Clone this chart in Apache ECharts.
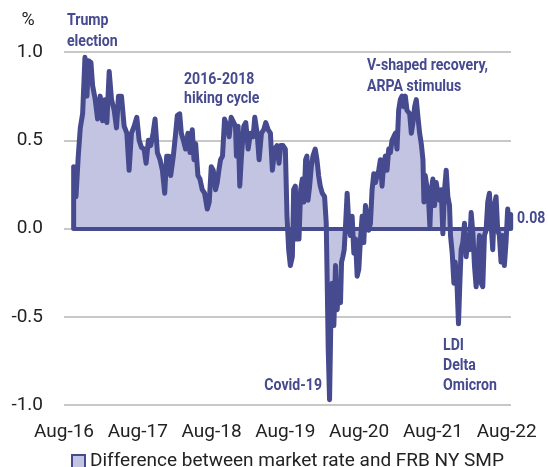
<!DOCTYPE html>
<html>
<head>
<meta charset="utf-8">
<script src="https://cdn.jsdelivr.net/npm/echarts@6/dist/echarts.min.js"></script>
<style>
  html, body { margin: 0; padding: 0; background: #fff; }
  #chart { width: 548px; height: 467px; }
</style>
</head>
<body>
<div id="chart"></div>
<script>
// x = months since Aug-16, y = spread in %
var months = [
  1.57, 1.57, 1.95, 2.32, 2.65, 3.03, 3.41, 3.73, 4.0, 4.38, 4.65, 5.08, 5.46, 5.89, 6.27, 6.65, 6.97, 7.35, 7.73, 8.16,
  8.54, 8.86, 9.35, 9.78, 10.22, 10.59, 10.97, 11.41, 11.84, 12.22, 12.59, 13.03, 13.35, 13.73, 14.11, 14.49, 14.81, 15.19,
  15.62, 16.0, 16.38, 16.70, 17.08, 17.35, 17.78, 18.16, 18.43, 18.81, 19.08, 19.41, 19.78, 20.16, 20.49, 20.86, 21.14,
  21.41, 21.78, 22.11, 22.49, 22.86, 23.30, 23.62, 23.95, 24.27, 24.65, 24.92, 25.19, 25.46, 25.78, 26.11, 26.54, 26.86,
  27.19, 27.51, 27.89,
  28.05, 28.32, 28.59, 28.86, 29.24, 29.57, 29.95, 30.32, 30.76, 31.03, 31.41, 31.73, 32.11, 32.49, 32.81, 33.19, 33.57,
  33.89, 34.27, 34.65, 34.97, 35.24, 35.62, 36.0, 36.27, 36.54, 36.81, 37.14, 37.35, 37.62, 37.89, 38.22, 38.49, 38.76,
  39.03, 39.30, 39.51, 39.68, 39.95, 40.22, 40.49, 40.86, 41.14, 41.41, 41.68, 42.0, 42.38, 42.65,
  42.81, 42.97, 43.19, 43.41, 43.62, 43.89, 44.16, 44.43, 44.70, 44.97, 45.14, 45.35, 45.57, 45.78, 46.05, 46.32, 46.59,
  46.86, 47.14, 47.41, 47.68, 47.95, 48.22, 48.49, 48.76, 49.03, 49.30, 49.57, 49.84, 50.11, 50.38, 50.65, 50.92, 51.19,
  51.46, 51.73, 52.0, 52.27, 52.54, 52.81, 53.08, 53.35, 53.62, 53.89, 54.16, 54.43, 54.70, 54.97, 55.24, 55.51, 55.78,
  56.22, 56.49, 56.76, 57.03, 57.30, 57.57, 57.84, 58.11, 58.38, 58.54, 58.76, 59.08, 59.30, 59.51, 59.73, 60.0, 60.27,
  60.54, 60.81, 61.08, 61.35, 61.62, 61.89, 62.16, 62.43, 62.70, 62.86, 63.14, 63.41, 63.62, 63.89, 64.16, 64.38, 64.59,
  64.86, 65.14, 65.41, 65.68, 65.95, 66.22, 66.49, 66.76, 67.03, 67.30, 67.57, 67.84, 68.11, 68.38, 68.65, 68.92, 69.19,
  69.46, 69.73, 70.0, 70.27, 70.54, 70.81, 71.08, 71.35, 71.62, 71.89, 72.16, 72.43, 72.65, 72.65
]
var spread = [
  0, 0.35, 0.18, 0.41, 0.57, 0.65, 0.97, 0.75, 0.95, 0.94, 0.81, 0.73, 0.62, 0.75, 0.61, 0.73, 0.60, 0.89, 0.73, 0.67,
  0.57, 0.75, 0.75, 0.58, 0.54, 0.33, 0.54, 0.58, 0.63, 0.50, 0.46, 0.45, 0.37, 0.50, 0.47, 0.54, 0.62, 0.43,
  0.39, 0.33, 0.20, 0.41, 0.41, 0.30, 0.41, 0.54, 0.64, 0.65, 0.54, 0.50, 0.45, 0.54, 0.43, 0.56, 0.39,
  0.48, 0.30, 0.28, 0.22, 0.20, 0.11, 0.15, 0.35, 0.33, 0.22, 0.26, 0.33, 0.39, 0.41, 0.62, 0.58, 0.52,
  0.63, 0.62, 0.58,
  0.41, 0.58, 0.24, 0.41, 0.58, 0.60, 0.45, 0.54, 0.52, 0.63, 0.54, 0.39, 0.54, 0.56, 0.60, 0.56, 0.54,
  0.33, 0.45, 0.47, 0.37, 0.47, 0.47, 0.45, 0.07, -0.12, -0.21, -0.16, 0.22, 0.24, -0.06, -0.06, 0.22, 0.28,
  0.15, 0.39, 0.41, 0.16, 0.24, 0.35, 0.41, 0.45, 0.39, 0.30, 0.24, 0.20, 0.18, 0.03,
  -0.31, -0.68, -0.97, -0.50, -0.31, -0.55, -0.21, -0.46, -0.31, -0.42, -0.19, -0.16, -0.12, 0.01, 0.20, 0.03, -0.04,
  0.07, -0.14, -0.06, -0.27, -0.23, -0.06, 0.07, -0.08, 0.13, 0.07, -0.01, 0.03, 0.22, 0.31, 0.26, 0.30, 0.33,
  0.39, 0.24, 0.37, 0.41, 0.33, 0.45, 0.43, 0.50, 0.52, 0.54, 0.45, 0.67, 0.73, 0.75, 0.69, 0.75, 0.67,
  0.65, 0.54, 0.60, 0.69, 0.73, 0.63, 0.54, 0.48, 0.39, 0.15, 0.30, 0.22, 0.16, 0.01, 0.22, 0.28, 0.13,
  0.26, 0.20, 0.16, 0.22, -0.03, 0.22, 0.33, 0.18, 0.13, -0.04, -0.14, -0.31, -0.19, -0.29, -0.54, -0.31, -0.12,
  -0.08, 0.03, -0.16, -0.04, -0.12, 0.09, -0.02, -0.21, -0.33, -0.19, -0.04, -0.31, -0.33, -0.04, -0.01, 0.15, 0.20,
  0.03, -0.12, 0.13, 0.18, -0.01, -0.04, -0.19, -0.04, -0.21, -0.08, 0.11, 0.03, 0.08, 0
]
var xLabels = ['Aug-16', 'Aug-17', 'Aug-18', 'Aug-19', 'Aug-20', 'Aug-21', 'Aug-22']
var lastValue = spread[spread.length - 2]

var NAVY = '#464a8e'
var FILL = '#c3c4e1'
// narrow bold look: Roboto squeezed horizontally
var ANNO_FONT = 'bold 17px Roboto, sans-serif'
var SQUEEZE = 0.83

var chart = echarts.init(document.getElementById('chart'))

// 注释文字
function note(text, x, y, align) {
  return {
    type: 'text',
    x: x,
    y: y,
    scaleX: SQUEEZE,
    style: {
      text: text,
      fill: NAVY,
      font: ANNO_FONT,
      textAlign: align || 'left',
      textVerticalAlign: 'middle'
    }
  }
}

chart.setOption({
  animation: false,
  grid: { left: 64, right: 37, top: 52, bottom: 62 },
  legend: {
    left: 66,
    top: 447,
    icon: 'rect',
    itemWidth: 13,
    itemHeight: 13,
    itemGap: 10,
    itemStyle: { color: FILL, borderColor: NAVY, borderWidth: 2 },
    textStyle: { color: '#222', fontSize: 19, fontFamily: 'Roboto' },
    data: ['Difference between market rate and FRB NY SMP']
  },
  xAxis: {
    type: 'value',
    min: 0,
    max: 72.7,
    interval: 12,
    axisLine: { show: false },
    axisTick: { show: false },
    splitLine: { show: false },
    axisLabel: {
      color: '#222',
      fontSize: 19,
      fontFamily: 'Roboto',
      margin: 18,
      showMaxLabel: false,
      formatter: function (v) {
        return v % 12 === 0 ? xLabels[v / 12] : ''
      }
    }
  },
  yAxis: {
    type: 'value',
    min: -1,
    max: 1,
    interval: 0.5,
    axisLine: { show: false },
    axisTick: { show: false },
    splitLine: { lineStyle: { color: '#c8c8c8', width: 2 } },
    axisLabel: {
      color: '#222',
      fontSize: 19,
      fontFamily: 'Roboto',
      margin: 21,
      formatter: function (v) { return v.toFixed(1) }
    }
  },
  series: [
    {
      name: 'Difference between market rate and FRB NY SMP',
      type: 'line',
      data: months.map(function (m, i) { return [m, spread[i]] }),
      symbol: 'none',
      lineStyle: { color: NAVY, width: 5, join: 'round', cap: 'round' },
      itemStyle: { color: NAVY },
      areaStyle: { color: FILL, opacity: 1 },
      markLine: {
        silent: true,
        symbol: 'none',
        label: { show: false },
        lineStyle: { color: NAVY, width: 4, type: 'solid' },
        data: [[{ coord: [months[0], 0] }, { coord: [months[months.length - 1], 0] }]]
      }
    }
  ],
  graphic: [
    { type: 'text', x: 28, y: 20, style: { text: '%', fill: '#222', font: '18px Roboto', textAlign: 'center', textVerticalAlign: 'middle' } },
    note('Trump', 67, 21),
    note('election', 67, 42),
    note('2016-2018', 184, 80),
    note('hiking cycle', 184, 99),
    note('V-shaped recovery,', 367, 66),
    note('ARPA stimulus', 367, 87),
    note('Covid-19', 322, 386, 'right'),
    note('LDI', 443, 346),
    note('Delta', 443, 366),
    note('Omicron', 443, 386),
    note(lastValue.toFixed(2), 517, 219)
  ]
})
</script>
</body>
</html>
